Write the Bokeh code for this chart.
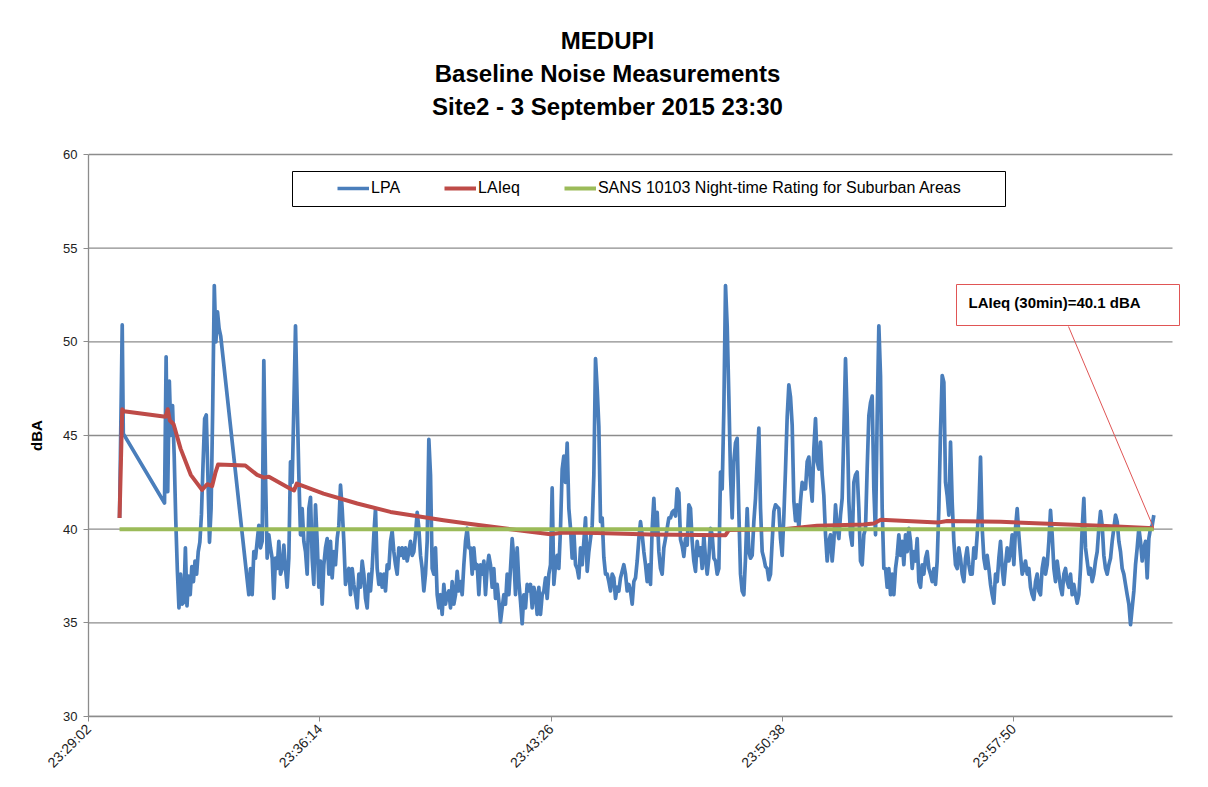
import math
from bokeh.plotting import figure
from bokeh.models import (Label, BoxAnnotation, Legend, LegendItem, FixedTicker, Range1d)
from bokeh.embed import file_html
from bokeh.resources import INLINE

# ---------------- data ----------------
# x values are seconds after 23:29:02
tick_seconds = [0, 432, 864, 1296, 1728]
tick_labels = ["23:29:02", "23:36:14", "23:43:26", "23:50:38", "23:57:50"]
y_ticks = [30, 35, 40, 45, 50, 55, 60]

# LPA, recorded in stretches: (start second, sampling step in seconds, dBA readings)
lpa_first_t = [58, 63, 65]
lpa_first_v = [40.6, 50.9, 45.1]

lpa_stretch_b = (142, 3.0, [
    41.4, 49.2, 42.0, 47.9, 45.0, 46.6, 44.0, 40.5, 37.8, 35.8, 37.6, 36.0,
    36.1, 39.0, 35.9, 37.5, 36.5, 38.0, 37.2, 38.3, 37.6, 38.8, 39.3, 40.8,
    43.5, 45.9, 46.1, 42.9, 39.3, 41.1, 46.4, 53.0, 50.0, 51.6, 50.7, 50.3])

lpa_stretch_c1 = (299.5, 3.1136, [
    36.5, 37.9, 36.5, 38.8, 38.45, 39.35, 40.2, 39.0, 39.35, 49.0, 42.9, 38.45,
    39.7, 39.0, 38.45, 36.3, 38.45, 37.9, 39.35, 37.6, 37.9, 39.15, 37.9, 36.9, 38.45])

lpa_stretch_c2 = (377.36, 3.1136, [
    43.6, 42.5, 46.5, 50.85, 46.8, 42.9, 39.7, 41.1, 39.35, 38.8,
    37.6, 41.1, 41.7, 38.45, 37.05, 41.3, 39.35, 36.9, 38.3, 36.0,
    38.1, 39.0, 39.5, 37.6, 39.35, 37.4, 38.8, 38.1, 39.5, 40.2,
    42.35, 41.1, 39.35, 37.05, 37.6, 37.9, 36.5, 37.9, 37.05, 36.5,
    35.8, 37.6, 36.9, 38.3, 37.6, 36.3, 35.8, 37.6, 36.7, 37.9,
    39.7, 41.1, 37.9, 37.05, 37.6, 36.9, 37.6, 36.7, 38.1, 37.9,
    39.35, 39.9, 38.8, 38.1, 37.6, 39.0, 38.6, 39.0, 38.45, 39.0,
    38.3, 38.8, 39.35, 38.6, 38.8, 39.7, 40.9, 40.05, 38.6, 37.9,
    36.7, 37.6, 39.35, 44.8, 42.9, 37.9, 37.6, 39.0, 36.5, 35.8,
    36.5, 35.45, 37.05, 36.0, 36.5, 36.7, 35.8, 37.2, 36.0, 36.5,
    37.75, 36.7, 37.2, 36.5, 38.1, 39.35, 40.05, 39.0])

lpa_stretch_c3 = (713.62, 3.1136, [
    39.0, 37.6, 39.0, 37.9, 38.1, 36.5, 38.1, 37.6, 38.3, 36.5,
    37.9, 38.6, 38.1, 36.9, 37.9, 36.3, 37.05, 36.15, 35.05, 35.8,
    36.5, 36.0, 37.6, 36.5, 37.9, 39.5, 38.45, 36.5, 39.0, 37.2,
    36.15, 34.95, 36.5, 35.8, 37.05, 36.7, 37.05, 35.8, 36.9, 36.5,
    35.45, 36.9, 35.45, 36.5, 36.7, 37.4, 36.3, 37.6, 38.1, 42.2,
    37.05, 38.1, 38.6, 37.9, 40.05, 43.2, 43.9, 42.5, 44.6, 41.1,
    40.05, 38.45, 39.9, 38.1, 37.9, 37.4, 39.0, 38.1, 39.35, 40.6,
    37.75, 38.8, 39.5, 40.2, 42.9, 49.1, 47.5, 45.5, 40.4, 40.6,
    38.5, 37.6, 37.6, 37.2, 36.7, 37.6, 37.4, 36.3, 36.9, 36.7,
    37.4, 37.75, 38.1, 37.6, 36.7, 37.05, 36.7, 36.0, 37.2, 37.4,
    38.3, 39.5, 40.4, 39.7, 38.8, 38.1, 37.2, 38.1])

lpa_stretch_c4 = (1049.88, 3.1136, [
    37.05, 40.05, 41.65, 39.7, 40.9, 38.8, 37.9, 37.6, 39.0, 39.5,
    40.05, 40.6, 40.6, 40.9, 41.0, 40.7, 42.15, 41.95, 39.45, 39.1,
    38.55, 39.5, 39.15, 41.3, 41.1, 39.35, 38.3, 37.75, 39.35, 38.6,
    39.0, 37.9, 39.7, 38.45, 37.6, 38.45, 40.05, 39.7, 38.45, 38.3,
    37.6, 37.9, 43.05, 42.15, 46.4, 53.0, 50.85, 47.1, 42.9, 40.6,
    43.6, 44.6, 44.85, 40.9, 37.6, 36.7, 36.5, 38.45, 41.1, 38.8,
    38.45, 38.6, 40.4, 41.65, 43.6, 45.4, 41.1, 38.8, 38.45, 38.0,
    37.9, 37.3, 37.6, 39.35, 40.95, 41.3, 41.2, 41.1, 39.5, 38.6,
    40.7, 43.2, 46.0, 47.7, 47.05, 45.55, 41.5, 40.45, 41.3, 40.05,
    41.5, 42.5, 42.15, 42.15, 43.6, 43.85, 42.5, 41.5, 44.3, 45.9,
    43.6, 43.2, 44.65, 42.9, 41.8, 39.7, 38.3, 39.35])

lpa_stretch_c5 = (1386.14, 3.1136, [
    39.7, 38.3, 39.35, 41.3, 40.05, 39.5, 40.75, 41.65, 45.2, 49.1,
    46.05, 41.5, 39.7, 39.15, 42.5, 42.9, 43.05, 41.1, 38.3, 38.1,
    39.7, 40.05, 43.25, 46.05, 46.75, 47.1, 42.15, 39.7, 46.05, 50.85,
    48.2, 41.1, 37.9, 37.9, 36.9, 37.9, 36.5, 37.6, 36.5, 37.9,
    38.6, 39.7, 38.6, 39.35, 38.1, 39.7, 38.8, 40.05, 39.35, 37.9,
    38.8, 38.3, 39.5, 37.2, 36.9, 38.1, 37.6, 38.45, 38.8, 37.9,
    37.6, 37.2, 37.9, 37.05, 38.3, 41.1, 45.2, 48.2, 47.85, 42.5,
    41.8, 40.75, 44.65, 41.45, 39.35, 38.1, 37.9, 39.0, 38.45, 37.6,
    37.2, 38.45, 39.0, 38.1, 37.6, 37.6, 39.0, 38.45, 39.7, 41.1,
    43.85, 40.05, 38.45, 37.9, 38.6, 37.9, 37.05, 36.5, 36.05, 37.6,
    37.2, 38.45])

lpa_stretch_c6 = (1703.72, 3.1136, [
    39.35, 37.9, 37.05, 38.1, 39.0, 38.3, 38.8, 39.7, 38.1, 40.05,
    41.1, 39.7, 38.6, 37.6, 37.9, 38.3, 37.6, 37.9, 36.9, 36.5,
    36.25, 37.2, 37.6, 36.7, 36.5, 37.9, 38.45, 37.6, 38.1, 39.35,
    41.0, 39.7, 37.9, 37.2, 38.3, 37.6, 36.9, 36.5, 37.6, 37.9,
    37.2, 36.9, 37.6, 36.5, 37.05, 36.5, 36.05, 36.5, 37.9, 40.05,
    41.65, 39.0, 38.3, 37.6, 37.9, 37.2, 37.6, 38.3, 38.8, 40.05,
    40.95, 40.2, 38.6, 37.9, 37.6, 38.1, 38.45, 39.35, 40.05, 40.75,
    40.4, 39.35, 38.8, 37.9, 37.6, 37.05, 36.5, 36.0, 34.9, 35.8,
    36.7, 38.1, 39.0, 40.05, 39.35, 38.3, 39.0, 39.35, 37.4, 39.5,
    40.05, 40.2, 40.75])

leq_t = [58, 63, 66, 144, 148, 152, 159, 172, 191, 212, 222, 231, 237, 242, 293,
         315, 328, 337, 377, 384, 389, 439, 502, 564, 663, 707, 788, 863, 887, 950,
         1050, 1190, 1196, 1298, 1361, 1448, 1467, 1480, 1586, 1604, 1704, 1891, 1990]
leq_v = [40.6, 46.4, 46.3, 46.0, 46.4, 45.8, 45.6, 44.3, 42.9, 42.1, 42.4, 42.3, 43.0,
         43.45, 43.4, 42.9, 42.75, 42.8, 42.16, 42.07, 42.43, 41.9, 41.37, 40.92,
         40.48, 40.3, 40.0, 39.73, 39.82, 39.8, 39.72, 39.68, 39.95, 40.0, 40.18,
         40.25, 40.3, 40.5, 40.35, 40.44, 40.39, 40.18, 40.05]

sans_t = [58, 1990]
sans_v = [40.0, 40.0]

series_names = ["LPA", "LAIeq", "SANS 10103 Night-time Rating for Suburban Areas"]
title_lines = ["MEDUPI", "Baseline Noise Measurements", "Site2 - 3 September 2015 23:30"]
callout_text = "LAIeq (30min)=40.1 dBA"
y_title = "dBA"

# assemble LPA (time axis from each stretch's sampling)
lpa_t = list(lpa_first_t)
lpa_v = list(lpa_first_v)
for start, step, vals in [lpa_stretch_b, lpa_stretch_c1, lpa_stretch_c2, lpa_stretch_c3,
                          lpa_stretch_c4, lpa_stretch_c5, lpa_stretch_c6]:
    lpa_t += [start + i * step for i in range(len(vals))]
    lpa_v += vals

# ---------------- geometry (canvas px) ----------------
W, H = 1200, 779
BL = 88                 # frame left (x = 0 s)
FB_PX = 716             # frame bottom (30 dBA)
BB = H - FB_PX
AX_X_END = 2025.0       # end of the drawn time axis
AX_RIGHT = 1172         # px where the time axis ends
Y_TOP_PX = 154          # px of 60 dBA
PX_PER_S = (AX_RIGHT - BL) / AX_X_END
PX_PER_DB = (FB_PX - Y_TOP_PX) / 30.0
X_MAX = (W - BL) / PX_PER_S
Y_MAX = 30 + FB_PX / PX_PER_DB


def sx(px):
    return (px - BL) / PX_PER_S


def sy(py):
    return 30 + (FB_PX - py) / PX_PER_DB


FONT = "Liberation Sans"
GRID = "#8c8c8c"

p = figure(width=W, height=H, output_backend="svg", toolbar_location=None,
           x_range=Range1d(0, X_MAX), y_range=Range1d(30, Y_MAX),
           min_border_left=BL, min_border_right=0,
           min_border_top=0, min_border_bottom=BB,
           background_fill_color="white", border_fill_color="white")
p.outline_line_color = None
p.xgrid.visible = False
p.ygrid.visible = False

# horizontal gridlines at the y ticks, across the time axis
p.segment(x0=[0] * len(y_ticks), y0=y_ticks, x1=[AX_X_END] * len(y_ticks), y1=y_ticks,
          line_color=GRID, line_width=1.3, level="underlay")

# y axis
p.yaxis.bounds = (30, 60)
p.yaxis.ticker = FixedTicker(ticks=y_ticks)
p.yaxis.minor_tick_line_color = None
p.yaxis.major_tick_in = 0
p.yaxis.major_tick_out = 5
p.yaxis.major_tick_line_color = GRID
p.yaxis.axis_line_color = GRID
p.yaxis.axis_line_width = 1.3
p.yaxis.major_label_text_font = FONT
p.yaxis.major_label_text_font_size = "13px"
p.yaxis.major_label_text_color = "#222222"
p.yaxis.major_label_standoff = 6
# the frame reaches the top of the canvas (title area), so the label, which is
# centred on the frame, is padded with no-break spaces to sit at the middle of 30..60
LABEL_PX = 15
pad = round(2 * ((FB_PX + Y_TOP_PX) / 2 - FB_PX / 2) / (0.278 * LABEL_PX))
p.yaxis.axis_label = y_title + "\u00a0" * pad
p.yaxis.axis_label_text_font = FONT
p.yaxis.axis_label_text_font_size = f"{LABEL_PX}px"
p.yaxis.axis_label_text_font_style = "bold"
p.yaxis.axis_label_text_color = "black"
p.yaxis.axis_label_standoff = 15

# x axis
p.xaxis.bounds = (0, AX_X_END)
p.xaxis.ticker = FixedTicker(ticks=tick_seconds)
p.xaxis.major_label_overrides = {t: l for t, l in zip(tick_seconds, tick_labels)}
p.xaxis.major_label_orientation = math.pi / 4
p.xaxis.minor_tick_line_color = None
p.xaxis.major_tick_in = 0
p.xaxis.major_tick_out = 5
p.xaxis.major_tick_line_color = GRID
p.xaxis.axis_line_color = GRID
p.xaxis.axis_line_width = 1.6
p.xaxis.major_label_text_font = FONT
p.xaxis.major_label_text_font_size = "14px"
p.xaxis.major_label_text_color = "#222222"
p.xaxis.major_label_standoff = 5

# series
r_lpa = p.line(lpa_t, lpa_v, line_color="#4a7ebb", line_width=3.7, line_join="round")
r_leq = p.line(leq_t, leq_v, line_color="#be4b48", line_width=4, line_join="round")
r_sans = p.line(sans_t, sans_v, line_color="#9bbb59", line_width=4)

# pointer from callout to the final LAIeq value
p.segment(x0=[sx(1068)], y0=[sy(326)], x1=[leq_t[-1]], y1=[leq_v[-1]],
          line_color="#e05555", line_width=1)

# legend frame + legend
p.add_layout(BoxAnnotation(left=sx(292), right=sx(1005), top=sy(171), bottom=sy(206),
                           fill_color="white", fill_alpha=1, line_color="black",
                           line_alpha=1, line_width=1))
legend = Legend(items=[LegendItem(label=series_names[0], renderers=[r_lpa]),
                       LegendItem(label=series_names[1], renderers=[r_leq]),
                       LegendItem(label=series_names[2], renderers=[r_sans])],
                location=(332 - BL, FB_PX - 203), orientation="horizontal",
                border_line_alpha=0, background_fill_alpha=0, padding=5, margin=0,
                spacing=44, glyph_width=32, glyph_height=20, label_height=20,
                label_standoff=2, label_text_font=FONT, label_text_font_size="16px",
                label_text_color="black")
p.add_layout(legend)

# callout box
p.add_layout(BoxAnnotation(left=sx(956), right=sx(1179), top=sy(284), bottom=sy(325),
                           fill_color="white", fill_alpha=1, line_color="#e05555",
                           line_alpha=1, line_width=1))
p.add_layout(Label(x=sx(968), y=sy(302), text=callout_text, text_align="left",
                   text_baseline="middle", text_font=FONT, text_font_size="15px",
                   text_font_style="bold", text_color="black"))

# title lines
for line, py in zip(title_lines, [40, 73, 106]):
    p.add_layout(Label(x=sx(607), y=sy(py), text=line, text_align="center",
                       text_baseline="middle", text_font=FONT, text_font_size="24px",
                       text_font_style="bold", text_color="black"))

open("out.html", "w").write(file_html(p, INLINE))
